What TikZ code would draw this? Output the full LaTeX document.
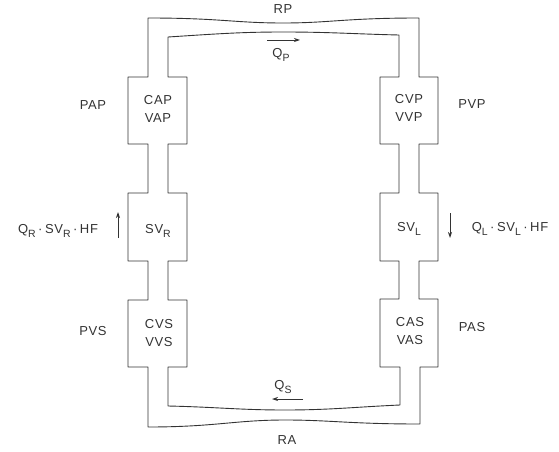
\documentclass[tikz,border=0pt]{standalone}
\usepackage{fontspec}
\setmainfont{Liberation Sans}[LetterSpace=5]
\usetikzlibrary{arrows.meta}
\definecolor{ink}{HTML}{333333}
\newcommand{\lo}[1]{\raisebox{-0.55ex}{\fontsize{10.5}{11}\selectfont #1}}
\newcommand{\dotsep}{\kern2.5pt·\kern2.5pt}

\begin{document}
\begin{tikzpicture}[x=1pt,y=-1pt,
  wall/.style={ink, line width=0.9pt, line join=round},
  flow/.style={ink, line width=0.8pt, -{Stealth[length=6pt,width=4pt]}},
  lbl/.style={ink, font=\fontsize{13}{18}\selectfont, align=center, inner sep=0pt}]
\useasboundingbox (0,0) rectangle (559,452);
% Outer wall of the circulation
\draw[wall] (148,18) .. controls (220,18) and (235,23) .. (283,23)
  .. controls (330,23) and (345,18) .. (419,18)
  -- (419,77) -- (438,77) -- (438,144) -- (419,144)
  -- (419,193) -- (438,193) -- (438,261) -- (419,261)
  -- (419,299) -- (438,299) -- (438,367) -- (420,367)
  -- (420,424) .. controls (350,424) and (330,420) .. (285,420)
  .. controls (235,420) and (215,427) .. (148,427)
  -- (148,367) -- (128,367) -- (128,300) -- (148,300)
  -- (148,261) -- (128,261) -- (128,193) -- (148,193)
  -- (148,144) -- (128,144) -- (128,77) -- (148,77) -- cycle;
% Inner wall
\draw[wall] (168,37) .. controls (215,34) and (240,32) .. (283,32)
  .. controls (330,32) and (355,34) .. (399,35)
  -- (399,77) -- (380,77) -- (380,144) -- (399,144)
  -- (399,193) -- (380,193) -- (380,261) -- (399,261)
  -- (399,299) -- (380,299) -- (380,367) -- (400,367)
  -- (400,405) .. controls (355,407) and (330,410) .. (285,410)
  .. controls (240,410) and (215,407) .. (168,406)
  -- (168,367) -- (187,367) -- (187,300) -- (168,300)
  -- (168,261) -- (187,261) -- (187,193) -- (168,193)
  -- (168,144) -- (187,144) -- (187,77) -- (168,77) -- cycle;
% Resistances
\node[lbl] (rp) at (283,9) {RP};
\node[lbl] (ra) at (287,440) {RA};
% Compartments
\node[lbl] (cap) at (158,109) {CAP\\VAP};
\node[lbl] (cvp) at (409,108) {CVP\\VVP};
\node[lbl] (svr) at (158,231) {SV\lo{R}};
\node[lbl] (svl) at (409,229) {SV\lo{L}};
\node[lbl] (cvs) at (159,333) {CVS\\VVS};
\node[lbl] (cas) at (410,331) {CAS\\VAS};
% Pressures
\node[lbl] (pap) at (93,105) {PAP};
\node[lbl] (pvp) at (472,104) {PVP};
\node[lbl] (pvs) at (93,331) {PVS};
\node[lbl] (pas) at (472,327) {PAS};
% Flows
\node[lbl] (qp) at (281,55) {Q\lo{P}};
\node[lbl] (qs) at (283,387) {Q\lo{S}};
\node[lbl] (qr) at (58,231) {Q\lo{R}\dotsep SV\lo{R}\dotsep HF};
\node[lbl] (ql) at (510,229) {Q\lo{L}\dotsep SV\lo{L}\dotsep HF};
\coordinate (qp-a) at (267,40); \coordinate (qp-b) at (300,40);
\coordinate (qs-a) at (303,399); \coordinate (qs-b) at (272,399);
\coordinate (qr-a) at (118,238); \coordinate (qr-b) at (118,212);
\coordinate (ql-a) at (450,213); \coordinate (ql-b) at (450,238);
\draw[flow] (qp-a) -- (qp-b);
\draw[flow] (qs-a) -- (qs-b);
\draw[flow] (qr-a) -- (qr-b);
\draw[flow] (ql-a) -- (ql-b);
\end{tikzpicture}
\end{document}
